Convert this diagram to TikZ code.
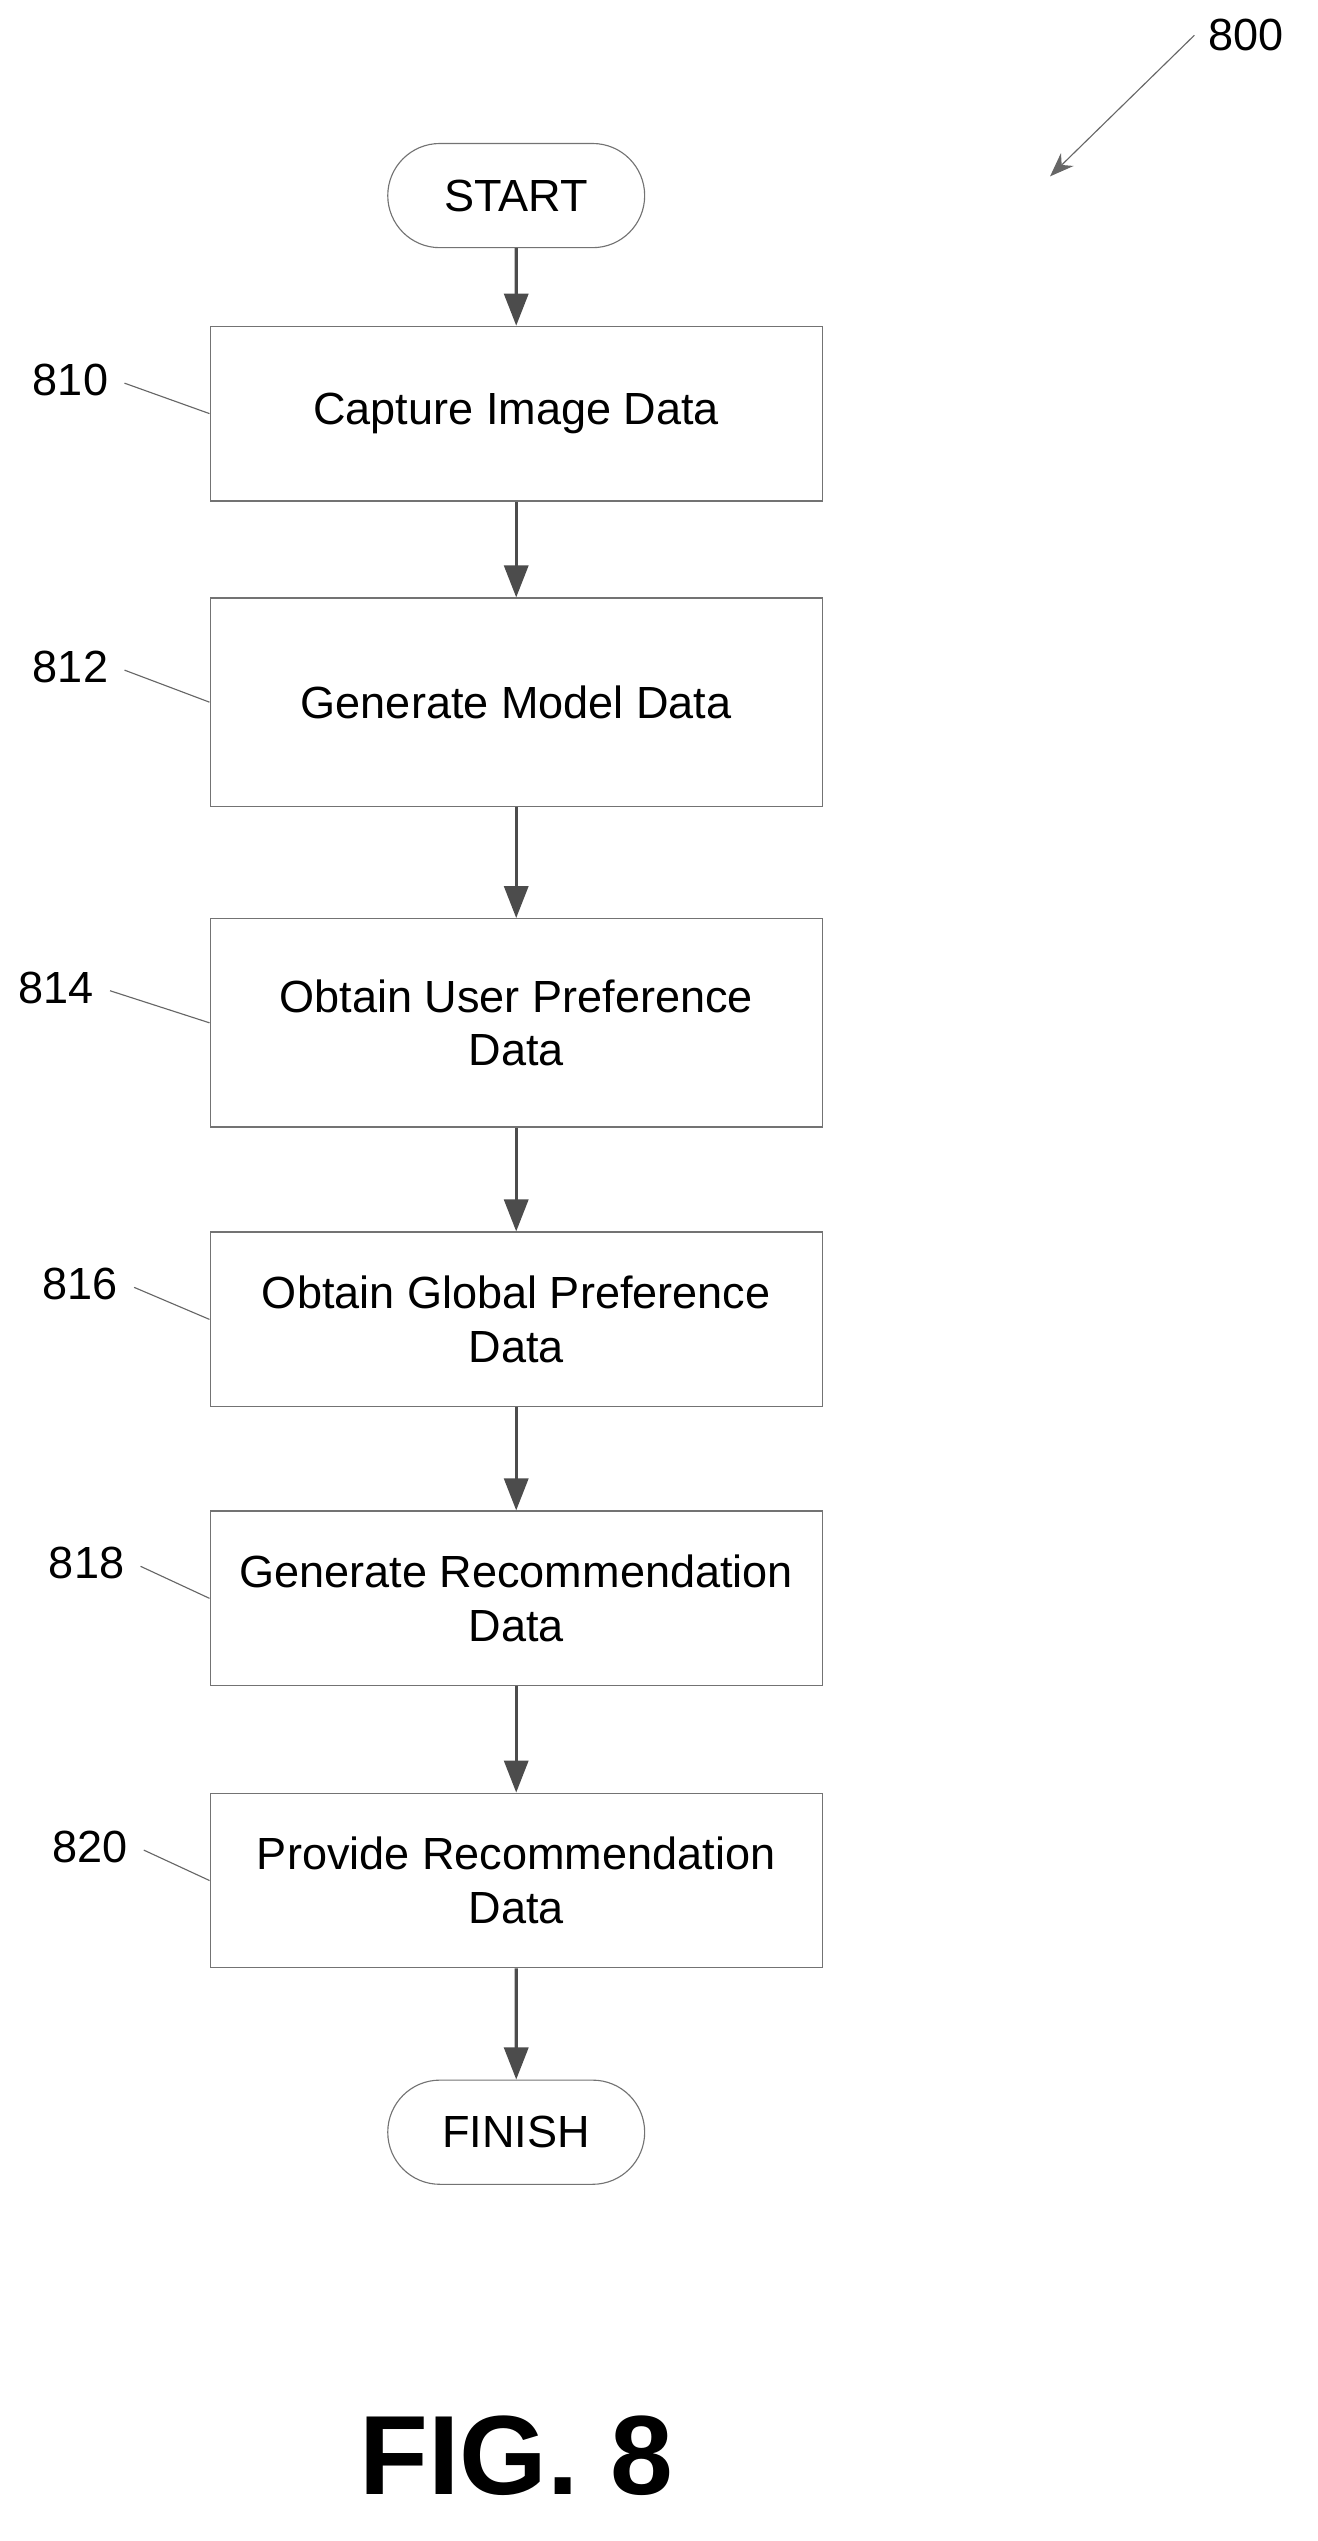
\documentclass[tikz,border=0pt]{standalone}
\usepackage{fontspec}
\setmainfont{Liberation Sans}
\usetikzlibrary{arrows.meta,shapes.misc}

\tikzset{
  stepbox/.style={draw=black!55,thin,minimum width=7.64cm,align=center,font=\fontsize{16}{19}\selectfont},
  term/.style={draw=black!55,thin,rounded rectangle,minimum width=3.44cm,minimum height=1.3cm,font=\fontsize{16}{19}\selectfont},
  flow/.style={-{Triangle[length=4mm,width=3mm]},black!70,line width=1.2pt},
  ref/.style={font=\fontsize{16}{19}\selectfont},
  lead/.style={black!60,thin}
}

\begin{document}
\begin{tikzpicture}[x=0.02cm,y=-0.02cm]
\useasboundingbox (0,0) rectangle (822,1585);

% Terminals
\node[term] (start) at (322,122) {START};
\node[term] (finish) at (322,1330) {FINISH};

% Steps
\node[stepbox,minimum height=2.18cm] (s810) at (322,258) {Capture Image Data};
\node[stepbox,minimum height=2.6cm] (s812) at (322,438) {Generate Model Data};
\node[stepbox,minimum height=2.6cm] (s814) at (322,638) {Obtain User Preference\\Data};
\node[stepbox,minimum height=2.18cm] (s816) at (322,823) {Obtain Global Preference\\Data};
\node[stepbox,minimum height=2.18cm] (s818) at (322,997) {Generate Recommendation\\Data};
\node[stepbox,minimum height=2.18cm] (s820) at (322,1173) {Provide Recommendation\\Data};

% Flow
\draw[flow] (start) -- (s810);
\draw[flow] (s810) -- (s812);
\draw[flow] (s812) -- (s814);
\draw[flow] (s814) -- (s816);
\draw[flow] (s816) -- (s818);
\draw[flow] (s818) -- (s820);
\draw[flow] (s820) -- (finish);

% Reference numerals
\node[ref] (r810) at (44,237) {810};
\node[ref] (r812) at (44,416) {812};
\node[ref] (r814) at (35,616) {814};
\node[ref] (r816) at (50,801) {816};
\node[ref] (r818) at (54,975) {818};
\node[ref] (r820) at (56,1152) {820};
\draw[lead] (r810.east) ++(4,2) -- (s810.west);
\draw[lead] (r812.east) ++(4,2) -- (s812.west);
\draw[lead] (r814.east) ++(4,2) -- (s814.west);
\draw[lead] (r816.east) ++(4,2) -- (s816.west);
\draw[lead] (r818.east) ++(4,2) -- (s818.west);
\draw[lead] (r820.east) ++(4,2) -- (s820.west);

\node[ref] (r800) at (777,22) {800};
\coordinate (p800) at (655,110);
\draw[lead,-{Stealth[length=3mm]}] (745,22) -- (p800);

\node[font=\fontsize{40}{44}\selectfont\bfseries] (fig) at (322,1532) {FIG. 8};
\end{tikzpicture}
\end{document}
